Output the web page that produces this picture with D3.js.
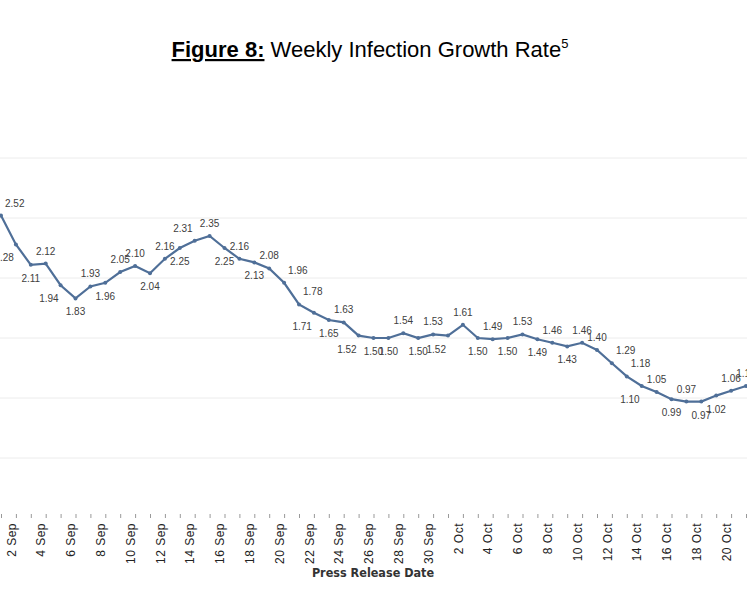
<!DOCTYPE html>
<html><head><meta charset="utf-8">
<script src="https://cdn.jsdelivr.net/npm/d3@7"></script>
<style>body{margin:0;background:#fff}</style></head>
<body><svg id="c" width="747" height="598"></svg>
<script>
const days = ["1 Sep","2 Sep","3 Sep","4 Sep","5 Sep","6 Sep","7 Sep","8 Sep","9 Sep","10 Sep","11 Sep","12 Sep","13 Sep","14 Sep","15 Sep","16 Sep","17 Sep","18 Sep","19 Sep","20 Sep","21 Sep","22 Sep","23 Sep","24 Sep","25 Sep","26 Sep","27 Sep","28 Sep","29 Sep","30 Sep",
"1 Oct","2 Oct","3 Oct","4 Oct","5 Oct","6 Oct","7 Oct","8 Oct","9 Oct","10 Oct","11 Oct","12 Oct","13 Oct","14 Oct","15 Oct","16 Oct","17 Oct","18 Oct","19 Oct","20 Oct","21 Oct"];
const values = [2.52,2.28,2.11,2.12,1.94,1.83,1.93,1.96,2.05,2.10,2.04,2.16,2.25,2.31,2.35,2.25,2.16,2.13,2.08,1.96,1.78,1.71,1.65,1.63,1.52,1.50,1.50,1.54,1.50,1.53,
1.52,1.61,1.50,1.49,1.50,1.53,1.49,1.46,1.43,1.46,1.40,1.29,1.18,1.10,1.05,0.99,0.97,0.97,1.02,1.06,1.10];
const labelPos = ["ar","bl","b","a","bl","b","a","b","a","a","b","a","b","al","a","b","a","b","a","ar","ar","bl","b","a","bl","b","b","a","b","a",
"bl","a","b","a","b","a","b","a","b","a","a","ar","ar","bl","a","b","a","b","b","a","a"];
const tickLabels = days.filter((d,i)=>i%2===1);
const yTicks = [0.5,1,1.5,2,2.5,3];

const svg = d3.select("#c");
const x = d3.scalePoint().domain(days).range([1,746]);
const y = d3.scaleLinear().domain([0,3.5]).range([518,98]);

const t = svg.append("text").attr("x",370).attr("y",57).attr("text-anchor","middle")
  .attr("font-family","Liberation Sans, Arial, sans-serif").attr("font-size",22).attr("fill","#000");
t.append("tspan").attr("font-weight","bold").attr("text-decoration","underline").text("Figure 8:");
t.append("tspan").text(" Weekly Infection Growth Rate");
t.append("tspan").attr("font-size",13).attr("dy",-9).text("5");

svg.append("g").selectAll("line").data(yTicks).join("line")
  .attr("x1",0).attr("x2",747).attr("y1",d=>y(d)).attr("y2",d=>y(d))
  .attr("stroke","#ececec").attr("stroke-width",1);

const ax = svg.append("g").attr("transform","translate(0,514)")
  .call(d3.axisBottom(x).tickValues(days).tickSize(4).tickFormat(d=>tickLabels.includes(d)?d:""));
ax.select(".domain").remove();
ax.selectAll(".tick line").attr("stroke","#999");
ax.selectAll("text").attr("font-family","Liberation Sans, Arial, sans-serif").attr("font-size",12).attr("fill","#222")
  .attr("letter-spacing","0.5").attr("transform","rotate(-90)").attr("text-anchor","end").attr("x",-9).attr("y",-5).attr("dy","0.35em");

svg.append("text").attr("x",373).attr("y",577).attr("text-anchor","middle")
  .attr("font-family","DejaVu Sans Condensed, Liberation Sans Narrow, sans-serif").attr("font-size",12.5).attr("font-weight","bold").attr("fill","#333").text("Press Release Date");

svg.append("path").datum(values).attr("fill","none").attr("stroke","#4f6f98").attr("stroke-width",2.2)
  .attr("d",d3.line().x((d,i)=>x(days[i])).y(d=>y(d)));
svg.append("g").selectAll("circle").data(values).join("circle")
  .attr("cx",(d,i)=>x(days[i])).attr("cy",d=>y(d)).attr("r",2).attr("fill","#4f6f98");

svg.append("g").selectAll("text").data(values).join("text")
  .attr("font-family","Liberation Sans, Arial, sans-serif").attr("font-size",10).attr("fill","#404040")
  .attr("text-anchor",(d,i)=>labelPos[i]==="ar"?"start":(labelPos[i]==="bl"||labelPos[i]==="al")?"end":"middle")
  .attr("x",(d,i)=>x(days[i])+(labelPos[i]==="ar"?4:(labelPos[i]==="bl"||labelPos[i]==="al")?-2:0))
  .attr("y",(d,i)=>y(d)+(labelPos[i][0]==="a"?-9:17))
  .text(d=>d.toFixed(2));
</script></body></html>
